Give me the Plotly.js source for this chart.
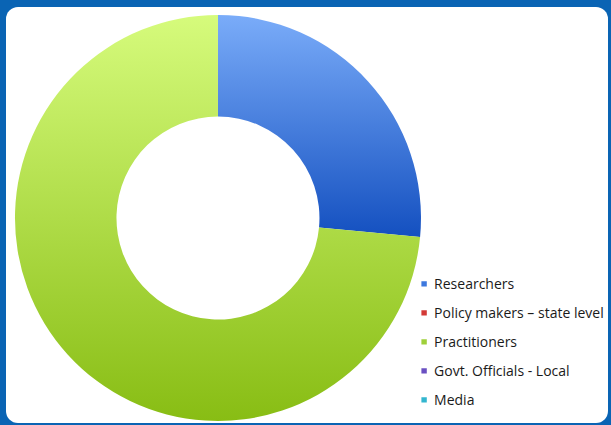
<!DOCTYPE html>
<html>
<head>
<meta charset="utf-8">
<script src="https://cdn.plot.ly/plotly-3.0.1.min.js"></script>
<style>
  html, body { margin: 0; padding: 0; width: 611px; height: 425px; overflow: hidden; background: #0a64b4; }
  #frame { position: absolute; left: 6px; top: 7px; right: 3px; bottom: 2px; background: #ffffff; border-radius: 12px; }
  #chart { position: absolute; left: 0; top: 0; width: 611px; height: 425px; }
  #chart .legendtext { font-size: 14px !important; transform: translateY(-3px); }
  #chart .legendpie { transform: translate(30px, 0px) scale(0.45); }
</style>
</head>
<body>
<div id="frame"></div>
<div id="chart"></div>
<script>
  var categories = ["Researchers", "Policy makers \u2013 state level", "Practitioners", "Govt. Officials - Local", "Media"];
  var shares = [26.5, 0, 73.5, 0, 0];
  var sliceColors = ["#3d78de", "#d33a36", "#9fd03a", "#6a50c2", "#33b6cf"];
  // vertical shading of the drawn slices: [top colour, bottom colour]
  var sliceShades = {
    0: ["#7aacf9", "#1450c0"],
    2: ["#d6fb7c", "#88bd14"]
  };

  var data = [{
    type: "pie",
    labels: categories,
    values: shares,
    hole: 0.5,
    sort: false,
    direction: "clockwise",
    rotation: 0,
    textinfo: "none",
    hoverinfo: "label+percent",
    marker: { colors: sliceColors, line: { width: 0 } },
    domain: { x: [0.0245, 0.689], y: [0.0094, 0.9647] }
  }];

  var layout = {
    width: 611,
    height: 425,
    margin: { l: 0, r: 0, t: 0, b: 0, autoexpand: false },
    paper_bgcolor: "rgba(0,0,0,0)",
    plot_bgcolor: "rgba(0,0,0,0)",
    showlegend: true,
    legend: {
      x: 0.645, xanchor: "left",
      y: 0.378, yanchor: "top",
      bgcolor: "rgba(0,0,0,0)",
      font: { family: "Open Sans, sans-serif", size: 20, color: "#1a1a1a" }
    },
    font: { family: "Open Sans, sans-serif", color: "#1a1a1a" }
  };

  Plotly.newPlot("chart", data, layout, { displayModeBar: false, staticPlot: true }).then(function (gd) {
    var NS = "http://www.w3.org/2000/svg";
    var svg = gd.querySelector("svg.main-svg");
    var defs = svg.querySelector("defs") || svg.insertBefore(document.createElementNS(NS, "defs"), svg.firstChild);
    Object.keys(sliceShades).forEach(function (k) {
      var g = document.createElementNS(NS, "linearGradient");
      g.setAttribute("id", "shade" + k);
      g.setAttribute("x1", "0"); g.setAttribute("y1", "0");
      g.setAttribute("x2", "0"); g.setAttribute("y2", "1");
      [[0, sliceShades[k][0]], [1, sliceShades[k][1]]].forEach(function (s) {
        var st = document.createElementNS(NS, "stop");
        st.setAttribute("offset", s[0]);
        st.setAttribute("stop-color", s[1]);
        g.appendChild(st);
      });
      defs.appendChild(g);
    });
    gd.querySelectorAll(".pielayer .slice").forEach(function (sl) {
      var d = sl.__data__;
      if (d && sliceShades[d.i]) {
        var p = sl.querySelector("path.surface");
        if (p) p.style.fill = "url(#shade" + d.i + ")";
      }
    });
  });
</script>
</body>
</html>
